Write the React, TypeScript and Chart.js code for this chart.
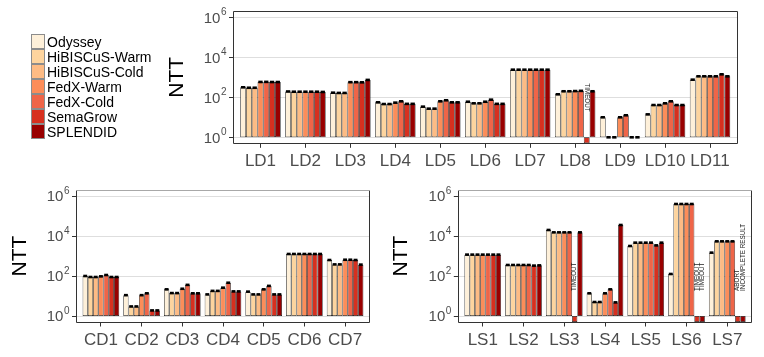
import React, { useEffect, useRef } from 'react';
import { Chart, registerables } from 'chart.js';

Chart.register(...registerables);

const W = 764;
const H = 357;

// ---------- data ----------
const SERIES = ['Odyssey', 'HiBISCuS-Warm', 'HiBISCuS-Cold', 'FedX-Warm', 'FedX-Cold', 'SemaGrow', 'SPLENDID'];
const COLORS = ['#fef0d9', '#fdd49e', '#fdbb84', '#fc8d59', '#ef6548', '#d7301f', '#990000'];

const Y_TICK_EXPONENTS = [0, 2, 4, 6];
const Y_MIN_EXP = -0.3;
const Y_MAX_EXP = 6.3;

// null = query failed (drawn as a small square below 10^0)
const LD_QUERIES = ['LD1', 'LD2', 'LD3', 'LD4', 'LD5', 'LD6', 'LD7', 'LD8', 'LD9', 'LD10', 'LD11'];
const LD_ODYSSEY = [316, 195, 170, 56, 34, 60, 2400, 141, 10, 14, 760];
const LD_HIBISCUS_WARM = [300, 190, 165, 46, 27, 50, 2400, 200, 1, 41, 1120];
const LD_HIBISCUS_COLD = [300, 190, 165, 46, 27, 50, 2400, 200, 1, 41, 1120];
const LD_FEDX_WARM = [585, 190, 570, 54, 63, 60, 2400, 205, 10, 50, 1120];
const LD_FEDX_COLD = [590, 190, 570, 63, 71, 76, 2400, 210, 12.6, 63, 1120];
const LD_SEMAGROW = [580, 190, 560, 47, 56, 47, 2400, null, 1, 41, 1410];
const LD_SPLENDID = [580, 185, 740, 47, 56, 47, 2400, 200, 1, 41, 1120];
const LD_NOTES = [{ query: 'LD8', series: 'SemaGrow', text: 'TIMEOUT' }];

const CD_QUERIES = ['CD1', 'CD2', 'CD3', 'CD4', 'CD5', 'CD6', 'CD7'];
const CD_ODYSSEY = [100, 11, 21.5, 12, 16.5, 1260, 630];
const CD_HIBISCUS_WARM = [89, 3, 14, 18, 12, 1260, 380];
const CD_HIBISCUS_COLD = [89, 3, 14, 18, 12, 1260, 380];
const CD_FEDX_WARM = [96, 11, 23, 26, 21.5, 1260, 650];
const CD_FEDX_COLD = [112, 13.6, 36, 46, 32, 1260, 650];
const CD_SEMAGROW = [89, 1.9, 13.6, 17, 12, 1260, 630];
const CD_SPLENDID = [89, 1.9, 13.6, 17, 12, 1260, 370];

const LS_QUERIES = ['LS1', 'LS2', 'LS3', 'LS4', 'LS5', 'LS6', 'LS7'];
const LS_ODYSSEY = [1170, 355, 20000, 13.6, 3160, 126, 1470];
const LS_HIBISCUS_WARM = [1170, 355, 15200, 5, 4640, 398000, 5400];
const LS_HIBISCUS_COLD = [1170, 355, 15200, 5, 4640, 398000, 5400];
const LS_FEDX_WARM = [1170, 355, 15200, 13.6, 4640, 398000, 5400];
const LS_FEDX_COLD = [1170, 355, 15200, 21.5, 4640, 398000, 5400];
const LS_SEMAGROW = [1170, 330, null, 4.8, 3400, null, null];
const LS_SPLENDID = [1170, 340, 15200, 35500, 4640, null, null];
const LS_NOTES = [
  { query: 'LS3', series: 'SemaGrow', text: 'TIMEOUT' },
  { query: 'LS6', series: 'SemaGrow', text: 'TIMEOUT' },
  { query: 'LS6', series: 'SPLENDID', text: 'TIMEOUT' },
  { query: 'LS7', series: 'SemaGrow', text: 'ABORT' },
  { query: 'LS7', series: 'SPLENDID', text: 'INCOMPLETE RESULT' },
];

// ---------- layout ----------
type Note = { query: string; series: string; text: string };
type PanelCfg = {
  id: string;
  labels: string[];
  values: (number | null)[][];
  notes: Note[];
  box: { left: number; right: number; top: number; bottom: number };
  titleX: number;
  labelBaseline: number;
  noteStart: number;
  noteDown: boolean;
  legend: boolean;
  lightTop: boolean;
};

const PANELS: PanelCfg[] = [
  {
    id: 'ld',
    labels: LD_QUERIES,
    values: [LD_ODYSSEY, LD_HIBISCUS_WARM, LD_HIBISCUS_COLD, LD_FEDX_WARM, LD_FEDX_COLD, LD_SEMAGROW, LD_SPLENDID],
    notes: LD_NOTES,
    box: { left: 233.5, right: 737, top: 11.3, bottom: 143.3 },
    titleX: 177,
    labelBaseline: 166,
    noteStart: Math.pow(10, 2.7),
    noteDown: true,
    legend: true,
    lightTop: false,
  },
  {
    id: 'cd',
    labels: CD_QUERIES,
    values: [CD_ODYSSEY, CD_HIBISCUS_WARM, CD_HIBISCUS_COLD, CD_FEDX_WARM, CD_FEDX_COLD, CD_SEMAGROW, CD_SPLENDID],
    notes: [],
    box: { left: 76.5, right: 369.5, top: 190, bottom: 322 },
    titleX: 20,
    labelBaseline: 345,
    noteStart: 18,
    noteDown: false,
    legend: false,
    lightTop: true,
  },
  {
    id: 'ls',
    labels: LS_QUERIES,
    values: [LS_ODYSSEY, LS_HIBISCUS_WARM, LS_HIBISCUS_COLD, LS_FEDX_WARM, LS_FEDX_COLD, LS_SEMAGROW, LS_SPLENDID],
    notes: LS_NOTES,
    box: { left: 458.3, right: 751.7, top: 190, bottom: 322 },
    titleX: 401.5,
    labelBaseline: 345,
    noteStart: 18,
    noteDown: false,
    legend: false,
    lightTop: true,
  },
];

const FONT = '"Liberation Sans", Arial, Helvetica, sans-serif';
const AXIS_TEXT = '#4d4d4d';

function px(v: number) {
  return Math.floor(v) + 0.5;
}

function makeDecor(p: PanelCfg) {
  return {
    id: 'decor_' + p.id,
    beforeDatasetsDraw(chart: any) {
      const ctx = chart.ctx as CanvasRenderingContext2D;
      const ys = chart.scales.y;
      const b = p.box;
      ctx.save();
      ctx.strokeStyle = '#dedede';
      ctx.lineWidth = 1;
      for (const e of Y_TICK_EXPONENTS) {
        const py = px(ys.getPixelForValue(Math.pow(10, e)));
        ctx.beginPath();
        ctx.moveTo(b.left, py);
        ctx.lineTo(b.right, py);
        ctx.stroke();
      }
      ctx.restore();
    },
    afterDatasetsDraw(chart: any) {
      const ctx = chart.ctx as CanvasRenderingContext2D;
      const ys = chart.scales.y;
      const xs = chart.scales.x;
      const b = p.box;
      ctx.save();

      // error-bar caps
      ctx.fillStyle = '#000';
      p.values.forEach((arr, di) => {
        const meta = chart.getDatasetMeta(di);
        arr.forEach((v, i) => {
          if (v == null) return;
          const el = meta.data[i];
          const py = ys.getPixelForValue(v);
          const w = Math.max(3, el.width * 0.75);
          ctx.fillRect(el.x - w / 2, py - 1.3, w, 2.6);
        });
      });

      // panel border
      ctx.lineWidth = 1;
      const L = px(b.left);
      const R = px(b.right);
      const T = px(b.top);
      const B = px(b.bottom);
      ctx.strokeStyle = '#333';
      ctx.beginPath();
      ctx.moveTo(L, T);
      ctx.lineTo(L, B);
      ctx.lineTo(R, B);
      ctx.lineTo(R, T);
      ctx.stroke();
      ctx.strokeStyle = p.lightTop ? '#a8a8a8' : '#333';
      ctx.beginPath();
      ctx.moveTo(L, T);
      ctx.lineTo(R, T);
      ctx.stroke();

      // y ticks + labels
      ctx.strokeStyle = '#333';
      for (const e of Y_TICK_EXPONENTS) {
        const yy = ys.getPixelForValue(Math.pow(10, e));
        const py = px(yy);
        ctx.beginPath();
        ctx.moveTo(b.left - 4.5, py);
        ctx.lineTo(b.left, py);
        ctx.stroke();
        ctx.fillStyle = AXIS_TEXT;
        ctx.textBaseline = 'alphabetic';
        ctx.textAlign = 'right';
        const expRight = b.left - 7;
        ctx.font = `10px ${FONT}`;
        const expStr = String(e);
        const ew = ctx.measureText(expStr).width;
        ctx.fillText(expStr, expRight, yy - 2);
        ctx.font = `15px ${FONT}`;
        ctx.fillText('10', expRight - ew - 0.5, yy + 5.4);
      }

      // x ticks + labels
      p.labels.forEach((lab, i) => {
        const cx = xs.getPixelForValue(i);
        const pxx = px(cx);
        ctx.strokeStyle = '#333';
        ctx.beginPath();
        ctx.moveTo(pxx, b.bottom);
        ctx.lineTo(pxx, b.bottom + 4.5);
        ctx.stroke();
        ctx.fillStyle = AXIS_TEXT;
        ctx.font = `17px ${FONT}`;
        ctx.textAlign = 'center';
        ctx.textBaseline = 'alphabetic';
        ctx.fillText(lab, cx, p.labelBaseline);
      });

      // y title
      ctx.save();
      ctx.translate(p.titleX, (b.top + b.bottom) / 2);
      ctx.rotate(-Math.PI / 2);
      ctx.fillStyle = '#000';
      ctx.font = `21px ${FONT}`;
      ctx.textAlign = 'center';
      ctx.textBaseline = 'middle';
      ctx.fillText('NTT', 0, 0);
      ctx.restore();

      // failure notes
      p.notes.forEach((n) => {
        const ci = p.labels.indexOf(n.query);
        const si = SERIES.indexOf(n.series);
        const el = chart.getDatasetMeta(si).data[ci];
        const y0 = ys.getPixelForValue(p.noteStart);
        ctx.save();
        ctx.translate(el.x, y0);
        ctx.rotate(p.noteDown ? Math.PI / 2 : -Math.PI / 2);
        ctx.font = `6.3px ${FONT}`;
        ctx.textAlign = 'left';
        ctx.textBaseline = 'middle';
        if (p.noteDown) {
          const tw = ctx.measureText(n.text).width;
          ctx.fillStyle = '#fff';
          ctx.fillRect(-1, -2.6, tw + 2, 5.2);
        }
        ctx.fillStyle = '#222';
        ctx.fillText(n.text, 0, 0);
        ctx.restore();
      });

      // legend
      if (p.legend) {
        SERIES.forEach((name, i) => {
          const top = 34 + i * 15;
          ctx.fillStyle = COLORS[i];
          ctx.fillRect(31, top, 14, 15);
          ctx.strokeStyle = '#8c8c8c';
          ctx.lineWidth = 1;
          ctx.strokeRect(31.5, top + 0.5, 13, 14);
          ctx.fillStyle = '#000';
          ctx.font = `14px ${FONT}`;
          ctx.textAlign = 'left';
          ctx.textBaseline = 'alphabetic';
          ctx.fillText(name, 47, top + 12.5);
        });
      }

      ctx.restore();
    },
  };
}

function Panel({ p }: { p: PanelCfg }) {
  const ref = useRef<HTMLCanvasElement>(null);
  useEffect(() => {
    if (!ref.current) return;
    const n = p.labels.length;
    const cat = (p.box.right - p.box.left) / (n + 0.2);
    const areaLeft = p.box.left + 0.1 * cat;
    const areaRight = p.box.right - 0.1 * cat;
    const yMin = Math.pow(10, Y_MIN_EXP);
    const chart = new Chart(ref.current, {
      type: 'bar',
      data: {
        labels: p.labels,
        datasets: SERIES.map((name, si) => ({
          label: name,
          data: p.values[si].map((v) => (v == null ? [yMin, 1] : [1, v])) as any,
          backgroundColor: COLORS[si],
          borderColor: '#111',
          borderWidth: 0.7,
          borderSkipped: false,
          categoryPercentage: 0.9,
          barPercentage: 1,
        })),
      },
      options: {
        animation: false,
        responsive: false,
        devicePixelRatio: 1,
        events: [],
        layout: {
          padding: {
            left: areaLeft,
            right: W - areaRight,
            top: p.box.top,
            bottom: H - p.box.bottom,
          },
        },
        plugins: { legend: { display: false }, tooltip: { enabled: false } },
        scales: {
          x: { type: 'category', display: false, offset: true },
          y: {
            type: 'logarithmic',
            display: false,
            min: yMin,
            max: Math.pow(10, Y_MAX_EXP),
            bounds: 'data',
          },
        },
      } as any,
      plugins: [makeDecor(p)],
    });
    return () => chart.destroy();
  }, [p]);
  return (
    <canvas
      ref={ref}
      width={W}
      height={H}
      style={{ position: 'absolute', left: 0, top: 0, width: W, height: H }}
    />
  );
}

export default function App() {
  return (
    <div style={{ position: 'fixed', left: 0, top: 0, width: W, height: H, background: '#fff' }}>
      {PANELS.map((p) => (
        <Panel key={p.id} p={p} />
      ))}
    </div>
  );
}
